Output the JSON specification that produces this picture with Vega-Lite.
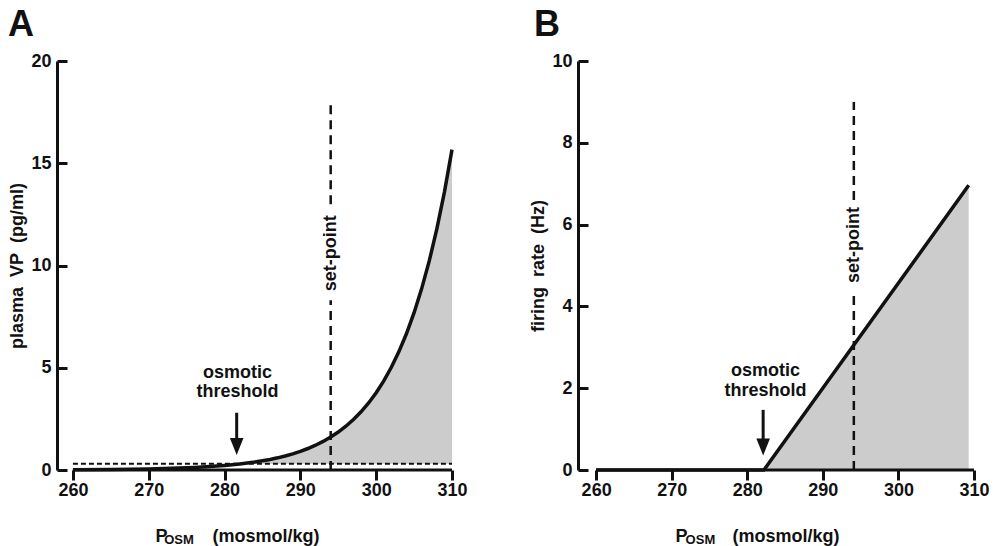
{
  "$schema": "https://vega.github.io/schema/vega-lite/v6.json",
  "padding": {"left": 8, "top": 7, "right": 0, "bottom": 0},
  "spacing": 61,
  "config": {
    "font": "Liberation Sans",
    "view": {"stroke": null},
    "axis": {
      "grid": false,
      "labelFont": "Liberation Sans",
      "labelFontSize": 18,
      "labelFontWeight": "bold",
      "labelColor": "#111",
      "titleFont": "Liberation Sans",
      "titleFontSize": 18,
      "titleFontWeight": "bold",
      "titleColor": "#111",
      "domainColor": "#111",
      "domainWidth": 3,
      "tickColor": "#111",
      "tickWidth": 3,
      "labelFlush": false,
      "labelBound": false,
      "labelOverlap": false
    },
    "text": {"font": "Liberation Sans", "fontSize": 18, "fontWeight": "bold", "color": "#111"}
  },
  "hconcat": [
    {
      "width": 395,
      "height": 409,
      "title": {"text": "A", "anchor": "start", "frame": "group", "fontSize": 36, "fontWeight": "bold", "font": "Liberation Sans", "color": "#111", "dx": -49, "offset": 8},
      "encoding": {
        "x": {
          "field": "x", "type": "quantitative",
          "scale": {"domain": [257.9, 310], "nice": false, "zero": false},
          "axis": {
            "values": [260, 270, 280, 290, 300, 310],
            "domain": false, "tickSize": 10, "labelPadding": 1,
            "title": "P\u00a0\u00a0\u00a0\u00a0\u00a0\u00a0\u00a0\u00a0\u00a0(mosmol/kg)",
            "titleX": 180, "titleY": 71, "titleAlign": "center", "titleBaseline": "alphabetic"
          }
        },
        "y": {
          "field": "y", "type": "quantitative",
          "scale": {"domain": [0, 20], "nice": false, "zero": true},
          "axis": {
            "values": [0, 5, 10, 15, 20],
            "tickSize": -10, "labelPadding": 16,
            "title": "plasma\u00a0\u00a0VP\u00a0\u00a0(pg/ml)", "titlePadding": 4
          }
        }
      },
      "layer": [
        {
          "data": {"values": [
            {"x": 282, "y": 0.3, "y2": 0.3}, {"x": 283, "y": 0.337, "y2": 0.3},
            {"x": 284, "y": 0.388, "y2": 0.3}, {"x": 285, "y": 0.448, "y2": 0.3},
            {"x": 286, "y": 0.516, "y2": 0.3}, {"x": 287, "y": 0.595, "y2": 0.3},
            {"x": 288, "y": 0.686, "y2": 0.3}, {"x": 289, "y": 0.791, "y2": 0.3},
            {"x": 290, "y": 0.912, "y2": 0.3}, {"x": 291, "y": 1.051, "y2": 0.3},
            {"x": 292, "y": 1.212, "y2": 0.3}, {"x": 293, "y": 1.397, "y2": 0.3},
            {"x": 294, "y": 1.61, "y2": 0.3}, {"x": 295, "y": 1.856, "y2": 0.3},
            {"x": 296, "y": 2.14, "y2": 0.3}, {"x": 297, "y": 2.467, "y2": 0.3},
            {"x": 298, "y": 2.844, "y2": 0.3}, {"x": 299, "y": 3.278, "y2": 0.3},
            {"x": 300, "y": 3.779, "y2": 0.3}, {"x": 301, "y": 4.357, "y2": 0.3},
            {"x": 302, "y": 5.022, "y2": 0.3}, {"x": 303, "y": 5.79, "y2": 0.3},
            {"x": 304, "y": 6.674, "y2": 0.3}, {"x": 305, "y": 7.694, "y2": 0.3},
            {"x": 306, "y": 8.87, "y2": 0.3}, {"x": 307, "y": 10.225, "y2": 0.3},
            {"x": 308, "y": 11.788, "y2": 0.3}, {"x": 309, "y": 13.589, "y2": 0.3},
            {"x": 310, "y": 15.666, "y2": 0.3}
          ]},
          "mark": {"type": "area", "color": "#cccccc", "opacity": 1},
          "encoding": {"y2": {"field": "y2"}}
        },
        {
          "data": {"values": [{"x": 260, "x2": 310, "y": 0}]},
          "mark": {"type": "rule", "color": "#111", "strokeWidth": 3},
          "encoding": {"x2": {"field": "x2"}}
        },
        {
          "data": {"values": [{"x": 260, "x2": 310, "y": 0.3}]},
          "mark": {"type": "rule", "color": "#111", "strokeWidth": 2, "strokeDash": [5, 3]},
          "encoding": {"x2": {"field": "x2"}}
        },
        {
          "data": {"values": [
            {"x": 260, "y": 0.013}, {"x": 265, "y": 0.026}, {"x": 270, "y": 0.053},
            {"x": 272, "y": 0.07}, {"x": 274, "y": 0.094}, {"x": 276, "y": 0.124},
            {"x": 278, "y": 0.166}, {"x": 280, "y": 0.22}, {"x": 281, "y": 0.254},
            {"x": 282, "y": 0.292}, {"x": 283, "y": 0.337}, {"x": 284, "y": 0.388},
            {"x": 285, "y": 0.448}, {"x": 286, "y": 0.516}, {"x": 287, "y": 0.595},
            {"x": 288, "y": 0.686}, {"x": 289, "y": 0.791}, {"x": 290, "y": 0.912},
            {"x": 291, "y": 1.051}, {"x": 292, "y": 1.212}, {"x": 293, "y": 1.397},
            {"x": 294, "y": 1.61}, {"x": 295, "y": 1.856}, {"x": 296, "y": 2.14},
            {"x": 297, "y": 2.467}, {"x": 298, "y": 2.844}, {"x": 299, "y": 3.278},
            {"x": 300, "y": 3.779}, {"x": 301, "y": 4.357}, {"x": 302, "y": 5.022},
            {"x": 303, "y": 5.79}, {"x": 304, "y": 6.674}, {"x": 305, "y": 7.694},
            {"x": 306, "y": 8.87}, {"x": 307, "y": 10.225}, {"x": 308, "y": 11.788},
            {"x": 309, "y": 13.589}, {"x": 310, "y": 15.666}
          ]},
          "mark": {"type": "line", "color": "#111", "strokeWidth": 3.5}
        },
        {
          "data": {"values": [{"x": 294, "y": 0, "y2": 8.3}, {"x": 294, "y": 13.0, "y2": 18}]},
          "mark": {"type": "rule", "color": "#111", "strokeWidth": 2.5, "strokeDash": [9, 6]},
          "encoding": {"y2": {"field": "y2"}}
        },
        {
          "data": {"values": [{"x": 281.6, "y": 2.8, "y2": 1.2}]},
          "mark": {"type": "rule", "color": "#111", "strokeWidth": 3},
          "encoding": {"y2": {"field": "y2"}}
        },
        {
          "data": {"values": [{"x": 281.6, "y": 1.15}]},
          "mark": {"type": "point", "shape": "M-0.8,-1L0.8,-1L0,1Z", "size": 289, "filled": true, "color": "#111", "opacity": 1, "strokeWidth": 0}
        },
        {
          "data": {"values": [{"x": 281.7, "y": 4.76, "t": "osmotic"}, {"x": 281.7, "y": 3.82, "t": "threshold"}]},
          "mark": {"type": "text", "align": "center", "baseline": "middle"},
          "encoding": {"text": {"field": "t"}}
        },
        {
          "data": {"values": [{"x": 294, "y": 10.6, "t": "set-point"}]},
          "mark": {"type": "text", "align": "center", "baseline": "middle", "angle": 270},
          "encoding": {"text": {"field": "t"}}
        },
        {
          "data": {"values": [{"x": 274.0, "y": -3.4, "t": "OSM"}]},
          "mark": {"type": "text", "align": "center", "baseline": "middle", "fontSize": 13},
          "encoding": {"text": {"field": "t"}}
        }
      ]
    },
    {
      "width": 396,
      "height": 409,
      "title": {"text": "B", "anchor": "start", "frame": "group", "fontSize": 36, "fontWeight": "bold", "font": "Liberation Sans", "color": "#111", "dx": -44, "offset": 8},
      "encoding": {
        "x": {
          "field": "x", "type": "quantitative",
          "scale": {"domain": [257.6, 310], "nice": false, "zero": false},
          "axis": {
            "values": [260, 270, 280, 290, 300, 310],
            "domain": false, "tickSize": 10, "labelPadding": 1,
            "title": "P\u00a0\u00a0\u00a0\u00a0\u00a0\u00a0\u00a0\u00a0\u00a0(mosmol/kg)",
            "titleX": 179, "titleY": 71, "titleAlign": "center", "titleBaseline": "alphabetic"
          }
        },
        "y": {
          "field": "y", "type": "quantitative",
          "scale": {"domain": [0, 10], "nice": false, "zero": true},
          "axis": {
            "values": [0, 2, 4, 6, 8, 10],
            "tickSize": -10, "labelPadding": 16,
            "title": "firing\u00a0\u00a0rate\u00a0\u00a0(Hz)", "titlePadding": 4
          }
        }
      },
      "layer": [
        {
          "data": {"values": [{"x": 282.2, "y": 0, "y2": 0}, {"x": 309.3, "y": 6.96, "y2": 0}]},
          "mark": {"type": "area", "color": "#cccccc", "opacity": 1},
          "encoding": {"y2": {"field": "y2"}}
        },
        {
          "data": {"values": [{"x": 260, "x2": 310, "y": 0}]},
          "mark": {"type": "rule", "color": "#111", "strokeWidth": 3},
          "encoding": {"x2": {"field": "x2"}}
        },
        {
          "data": {"values": [{"x": 260, "y": 0}, {"x": 282.2, "y": 0}, {"x": 309.3, "y": 6.96}]},
          "mark": {"type": "line", "color": "#111", "strokeWidth": 3.5}
        },
        {
          "data": {"values": [{"x": 294.1, "y": 0, "y2": 4.4}, {"x": 294.1, "y": 6.6, "y2": 9.0}]},
          "mark": {"type": "rule", "color": "#111", "strokeWidth": 2.5, "strokeDash": [9, 6]},
          "encoding": {"y2": {"field": "y2"}}
        },
        {
          "data": {"values": [{"x": 282.1, "y": 1.47, "y2": 0.6}]},
          "mark": {"type": "rule", "color": "#111", "strokeWidth": 3},
          "encoding": {"y2": {"field": "y2"}}
        },
        {
          "data": {"values": [{"x": 282.1, "y": 0.56}]},
          "mark": {"type": "point", "shape": "M-0.8,-1L0.8,-1L0,1Z", "size": 289, "filled": true, "color": "#111", "opacity": 1, "strokeWidth": 0}
        },
        {
          "data": {"values": [{"x": 282.4, "y": 2.41, "t": "osmotic"}, {"x": 282.4, "y": 1.94, "t": "threshold"}]},
          "mark": {"type": "text", "align": "center", "baseline": "middle"},
          "encoding": {"text": {"field": "t"}}
        },
        {
          "data": {"values": [{"x": 294.1, "y": 5.5, "t": "set-point"}]},
          "mark": {"type": "text", "align": "center", "baseline": "middle", "angle": 270},
          "encoding": {"text": {"field": "t"}}
        },
        {
          "data": {"values": [{"x": 273.8, "y": -1.7, "t": "OSM"}]},
          "mark": {"type": "text", "align": "center", "baseline": "middle", "fontSize": 13},
          "encoding": {"text": {"field": "t"}}
        }
      ]
    }
  ]
}
